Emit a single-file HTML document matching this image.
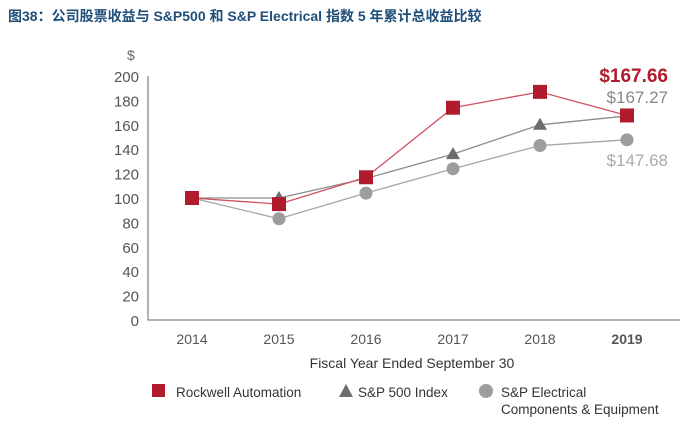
<!DOCTYPE html>
<html><head><meta charset="utf-8"><style>
body{margin:0;background:#fff;width:700px;height:436px;overflow:hidden;font-family:"Liberation Sans","Noto Sans CJK SC",sans-serif}
#t{position:absolute;left:8px;top:6px;font-size:14px;font-weight:bold;color:#1f4e79}
</style></head><body>
<div id="t">图38：公司股票收益与 S&amp;P500 和 S&amp;P Electrical 指数 5 年累计总收益比较</div>
<svg id="c" width="700" height="436" style="position:absolute;left:0;top:0"></svg>
<script>
const years=["2014","2015","2016","2017","2018","2019"];
const rockwell=[100,95,117,174,187,167.66];
const sp500=[100,100,116,136,160,167.27];
const elec=[100,83,104,124,143,147.68];
const yTicks=[0,20,40,60,80,100,120,140,160,180,200];
const NS="http://www.w3.org/2000/svg";
const svg=document.getElementById('c');
function y(v){return 320-v*1.22;}
function x(i){return 192+i*87;}
function mk(tag,attrs,parent){const e=document.createElementNS(NS,tag);for(const k in attrs)e.setAttribute(k,attrs[k]);(parent||svg).appendChild(e);return e;}
function txt(s,attrs){const e=mk('text',attrs);e.textContent=s;return e;}
const ax=mk('path',{d:"M148,76 V320 H680",fill:"none",stroke:"#666","stroke-width":1});


yTicks.forEach(v=>{const t=txt(v,{x:139,y:y(v)+6,"text-anchor":"end","font-size":15,fill:"#555"});

});
const d=txt("$",{x:127,y:60,"font-size":14,fill:"#666"});


years.forEach((s,i)=>{const t=txt(s,{x:x(i),y:344,"text-anchor":"middle","font-size":14,fill:"#555","font-weight":i==5?"bold":"normal"});

});
const xt=txt("Fiscal Year Ended September 30",{x:412,y:368,"text-anchor":"middle","font-size":14,fill:"#333"});


function line(arr,col,name){const p=mk('polyline',{points:arr.map((v,i)=>x(i)+","+y(v)).join(" "),fill:"none",stroke:col,"stroke-width":1.3});

}
line(elec,"#a6a6a6","electrical-line");
line(sp500,"#8c8c8c","sp500-line");
line(rockwell,"#d05060","rockwell-line");
elec.forEach((v,i)=>{const c=mk('circle',{cx:x(i),cy:y(v),r:6.5,fill:"#9d9d9f"});

});
sp500.forEach((v,i)=>{const cx=x(i),cy=y(v);const p=mk('polygon',{points:`${cx},${cy-7} ${cx-7},${cy+5} ${cx+7},${cy+5}`,fill:"#6d6d6d"});

});
rockwell.forEach((v,i)=>{const r=mk('rect',{x:x(i)-7,y:y(v)-7,width:14,height:14,fill:"#b01c2e"});

});
const l1=txt("$"+rockwell[5].toFixed(2),{x:668,y:82,"text-anchor":"end","font-size":19,"font-weight":"bold",fill:"#b01c2e"});


const l2=txt("$"+sp500[5].toFixed(2),{x:668,y:103,"text-anchor":"end","font-size":17,fill:"#888"});


const l3=txt("$"+elec[5].toFixed(2),{x:668,y:166,"text-anchor":"end","font-size":17,fill:"#aaa"});


// legend
const g1=mk('rect',{x:152,y:384,width:13,height:13,fill:"#b01c2e"});


const lt1=txt("Rockwell Automation",{x:176,y:397,"font-size":13.5,fill:"#333"});


const g2=mk('polygon',{points:"346,384 339,397 353,397",fill:"#6d6d6d"});


const lt2=txt("S&P 500 Index",{x:358,y:397,"font-size":13.5,fill:"#333"});


const g3=mk('circle',{cx:486,cy:391,r:7,fill:"#9d9d9f"});


const lt3=txt("S&P Electrical",{x:501,y:397,"font-size":13.5,fill:"#333"});


const lt4=txt("Components & Equipment",{x:501,y:414,"font-size":13.5,fill:"#333"});


</script>
</body></html>
